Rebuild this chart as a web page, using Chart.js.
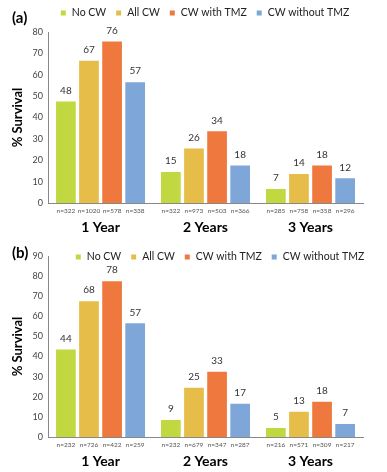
<!DOCTYPE html>
<html>
<head>
<meta charset="utf-8">
<script src="https://cdn.jsdelivr.net/npm/chart.js@4"></script>
<style>
body{margin:0;background:#fff;}
canvas{display:block;}
</style>
</head>
<body>
<canvas id="chartA" width="387" height="236"></canvas>
<canvas id="chartB" width="387" height="236"></canvas>
<script>
const years=["1 Year","2 Years","3 Years"];
const seriesNames=["No CW","All CW","CW with TMZ","CW without TMZ"];
const colors=["#c2d840","#e5bd48","#ee783e","#7fa6d8"];

/* panel (a) */
const aNoCW=[48,15,7];
const aAllCW=[67,26,14];
const aWithTMZ=[76,34,18];
const aWithoutTMZ=[57,18,12];
const aN=[
["n=322","n=322","n=285"],
["n=1020","n=973","n=758"],
["n=578","n=503","n=358"],
["n=338","n=366","n=296"]
];

/* panel (b) */
const bNoCW=[44,9,5];
const bAllCW=[68,25,13];
const bWithTMZ=[78,33,18];
const bWithoutTMZ=[57,17,7];
const bN=[
["n=232","n=232","n=216"],
["n=726","n=679","n=571"],
["n=422","n=347","n=309"],
["n=259","n=287","n=217"]
];

const FONT="Lato, 'DejaVu Sans', sans-serif";

/* value labels, n= labels, legend row and panel letter */
const barText={
id:"barText",
afterDatasetsDraw(chart,args,opts){
const ctx=chart.ctx;
ctx.save();
ctx.textAlign="center";
chart.data.datasets.forEach((ds,i)=>{
chart.getDatasetMeta(i).data.forEach((bar,j)=>{
ctx.fillStyle="#333";
ctx.font="10px "+FONT;
ctx.textBaseline="bottom";
ctx.fillText(ds.data[j],bar.x,bar.y-5);
ctx.fillStyle="#555";
ctx.font="6.5px "+FONT;
ctx.textBaseline="top";
ctx.fillText(opts.n[i][j],bar.x,chart.chartArea.bottom+5);
});
});
// legend
ctx.font="10.5px "+FONT;
ctx.textBaseline="middle";
ctx.textAlign="left";
let box=5,gap=6,sep=10;
let w=0;
chart.data.datasets.forEach((ds,i)=>{
w+=box+gap+ctx.measureText(ds.label).width+(i<chart.data.datasets.length-1?sep:0);
});
let x=opts.legendX-w/2;
chart.data.datasets.forEach(ds=>{
ctx.fillStyle=ds.backgroundColor;
ctx.fillRect(x,opts.legendY-box/2,box,box);
x+=box+gap;
ctx.fillStyle="#222";
ctx.fillText(ds.label,x,opts.legendY);
x+=ctx.measureText(ds.label).width+sep;
});
ctx.fillStyle="#000";
ctx.font="bold 15px "+FONT;
ctx.fillText(opts.letter,12,opts.letterY);
ctx.restore();
}
};

function makeChart(id,vals,n,max,opts,pad,xh){
new Chart(document.getElementById(id),{
type:"bar",
data:{
labels:years,
datasets:vals.map((v,i)=>({
label:seriesNames[i],
data:v,
backgroundColor:colors[i],
borderColor:"rgba(255,255,255,0.5)",
borderWidth:1,
categoryPercentage:0.88,
barPercentage:0.94
}))
},
options:{
responsive:false,
animation:false,
layout:{padding:pad},
plugins:{
legend:{display:false},
tooltip:{enabled:false},
barText:Object.assign({n:n},opts)
},
scales:{
x:{
grid:{display:false,drawTicks:false},
border:{color:"#888"},
ticks:{color:"#000",padding:16,font:{family:FONT,size:14,weight:"bold"}},
afterFit(s){s.height=xh;}
},
y:{
min:0,max:max,
grid:{display:false,drawTicks:false},
border:{color:"#888"},
ticks:{stepSize:10,color:"#444",padding:5,font:{family:FONT,size:9}},
title:{display:true,text:"% Survival",color:"#000",font:{family:FONT,size:13,weight:"bold"},padding:2}
}
}
},
plugins:[barText]
});
}

makeChart("chartA",[aNoCW,aAllCW,aWithTMZ,aWithoutTMZ],aN,80,
{letter:"(a)",letterY:18,legendX:205,legendY:13},{left:8,right:24,top:32,bottom:0},33);
makeChart("chartB",[bNoCW,bAllCW,bWithTMZ,bWithoutTMZ],bN,90,
{letter:"(b)",letterY:17,legendX:220,legendY:21},{left:8,right:24,top:20,bottom:0},35);
</script>
</body>
</html>
